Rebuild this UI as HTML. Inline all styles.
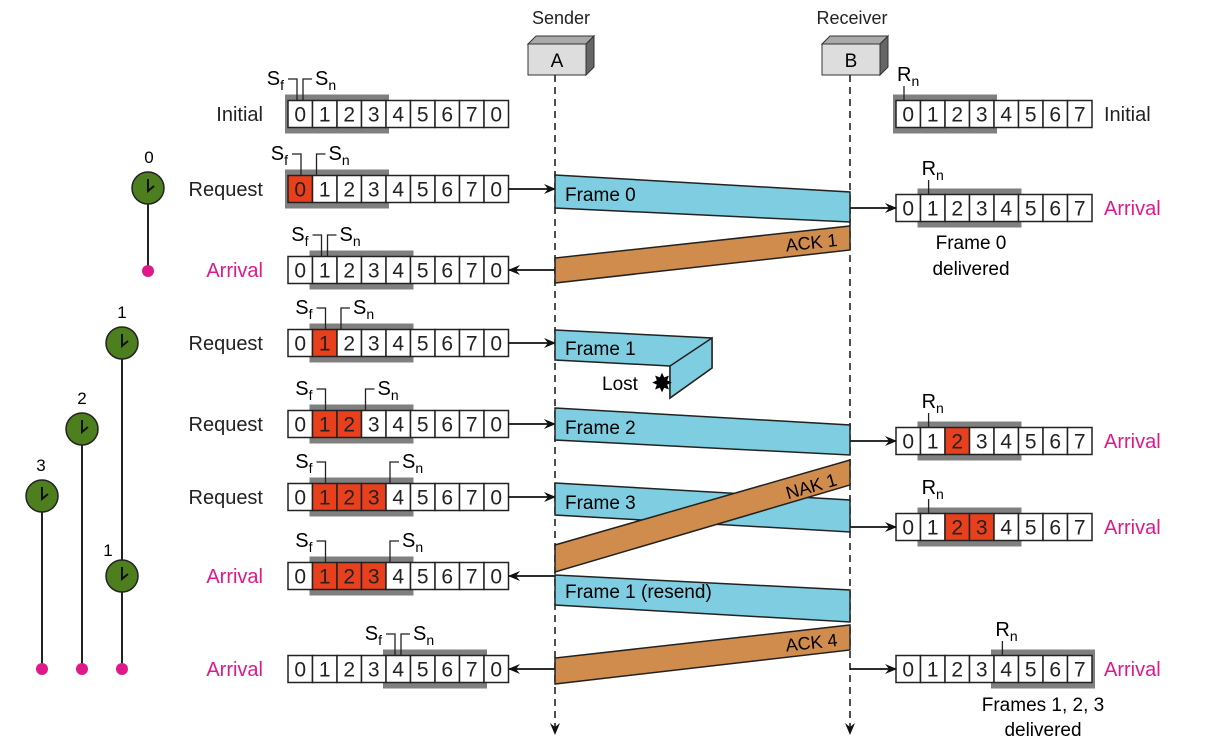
<!DOCTYPE html>
<html><head><meta charset="utf-8"><style>
body{margin:0;background:#fff;}
svg{display:block;font-family:"Liberation Sans","DejaVu Sans",sans-serif;}
</style></head><body>
<svg id="s" width="1205" height="738" viewBox="0 0 1205 738" xmlns="http://www.w3.org/2000/svg">
<defs>
<marker id="ar" markerWidth="12" markerHeight="10" refX="11" refY="5" orient="auto" markerUnits="userSpaceOnUse"><path d="M0,0 L12,5 L0,10 L4,5z" fill="#111"/></marker>
</defs>
<text x="561" y="24" font-size="18" text-anchor="middle" fill="#222">Sender</text>
<text x="852" y="24" font-size="18" text-anchor="middle" fill="#222">Receiver</text>
<polygon points="528,44 536,36 594,36 586,44" fill="#aaa" stroke="#333"/>
<polygon points="586,44 594,36 594,67 586,75" fill="#666" stroke="#333"/>
<rect x="528" y="44" width="58" height="31" fill="#ddd" stroke="#333"/>
<text x="557" y="67" font-size="19" text-anchor="middle">A</text>
<polygon points="822,44 830,36 888,36 880,44" fill="#aaa" stroke="#333"/>
<polygon points="880,44 888,36 888,67 880,75" fill="#666" stroke="#333"/>
<rect x="822" y="44" width="58" height="31" fill="#ddd" stroke="#333"/>
<text x="851" y="67" font-size="19" text-anchor="middle">B</text>
<line x1="555" y1="75" x2="555" y2="734" stroke="#222" stroke-width="1.6" stroke-dasharray="7,5" marker-end="url(#ar)"/>
<line x1="850" y1="75" x2="850" y2="734" stroke="#222" stroke-width="1.6" stroke-dasharray="7,5" marker-end="url(#ar)"/>
<g id="g"></g>
</svg>
<script>
var g=document.getElementById('g'),h='';
function row(x0,y,labels,win,red){var w=24.5,hh=27;
 h+='<rect x="'+(x0+win[0]*w-3)+'" y="'+(y-hh/2-6)+'" width="'+((win[1]-win[0]+1)*w+6)+'" height="'+(hh+12)+'" fill="#808080"/>';
 for(var i=0;i<labels.length;i++){var r=red.indexOf(i)>=0;
  h+='<rect x="'+(x0+i*w)+'" y="'+(y-hh/2)+'" width="'+w+'" height="'+hh+'" fill="'+(r?'#e8401c':'#fff')+'" stroke="#222" stroke-width="1.5"/>';
  h+='<text x="'+(x0+i*w+w/2)+'" y="'+(y+7.5)+'" font-size="21" text-anchor="middle" fill="#222">'+labels[i]+'</text>';}}
function lbl(x,y,t,c){h+='<text x="'+x+'" y="'+(y+7)+'" font-size="20" text-anchor="end" fill="'+(c||'#222')+'">'+t+'</text>';}
function sfsn(y,sf,sn){var x0=288,w=24.5,top=y-13,by=top-22;
 var xf,xn;if(sf==sn){xf=x0+sf*w+9;xn=x0+sn*w+15;}else{xf=x0+sf*w+13;xn=x0+sn*w+4;}
 h+='<path d="M'+xf+','+top+' V'+by+' H'+(xf-9)+'" fill="none" stroke="#222" stroke-width="1.3"/>';
 h+='<path d="M'+xn+','+top+' V'+by+' H'+(xn+9)+'" fill="none" stroke="#222" stroke-width="1.3"/>';
 h+='<text x="'+(xf-13)+'" y="'+(by+6)+'" font-size="20" text-anchor="end">S<tspan font-size="14" dy="5">f</tspan></text>';
 h+='<text x="'+(xn+12)+'" y="'+(by+6)+'" font-size="20">S<tspan font-size="14" dy="5">n</tspan></text>';}
function rn(y,c){var x=896+c*24.6+8;h+='<line x1="'+x+'" y1="'+(y-13)+'" x2="'+x+'" y2="'+(y-28)+'" stroke="#222" stroke-width="1.3"/>';
 h+='<text x="'+(x-7)+'" y="'+(y-33)+'" font-size="20">R<tspan font-size="14" dy="5">n</tspan></text>';}
function arr(x1,y,x2){h+='<line x1="'+x1+'" y1="'+y+'" x2="'+x2+'" y2="'+y+'" stroke="#111" stroke-width="1.8" marker-end="url(#ar)"/>';}
var S=[0,1,2,3,4,5,6,7,0],R=[0,1,2,3,4,5,6,7];
var rows=[[114,'Initial','#222',[0,3],[],0,0,0],[189,'Request','#222',[0,3],[0],0,1,1],[270,'Arrival','#e0198a',[1,4],[],1,1,-1],
[343,'Request','#222',[1,4],[1],1,2,1],[424,'Request','#222',[1,4],[1,2],1,3,1],[497,'Request','#222',[1,4],[1,2,3],1,4,1],
[576,'Arrival','#e0198a',[1,4],[1,2,3],1,4,-1],[669,'Arrival','#e0198a',[4,7],[],4,4,-1]];
rows.forEach(function(r){row(288,r[0],S,r[3],r[4]);lbl(263,r[0],r[1],r[2]);sfsn(r[0],r[5],r[6]);
 if(r[7]==1)arr(508,r[0],555);if(r[7]==-1)arr(555,r[0],509);});
var rr=[[114,'Initial','#222',[0,3],[],0,0],[208,'Arrival','#e0198a',[1,4],[],1,1],[441,'Arrival','#e0198a',[1,4],[2],1,1],[527,'Arrival','#e0198a',[1,4],[2,3],1,1],[669,'Arrival','#e0198a',[4,7],[],4,1]];
rr.forEach(function(r){row(896,r[0],R,r[3],r[4]);h+='<text x="1104" y="'+(r[0]+7)+'" font-size="20" fill="'+r[2]+'">'+r[1]+'</text>';rn(r[0],r[5]);if(r[6])arr(850,r[0],896);});
h+='<text x="971" y="249" font-size="19" text-anchor="middle">Frame 0</text><text x="971" y="275" font-size="19" text-anchor="middle">delivered</text>';
h+='<text x="1043" y="711" font-size="19" text-anchor="middle">Frames 1, 2, 3</text><text x="1043" y="736" font-size="19" text-anchor="middle">delivered</text>';
function poly(p,f){h+='<polygon points="'+p+'" fill="'+f+'" stroke="#222" stroke-width="1.5"/>';}
var B='#7ecde0',O='#cf8c4c';
poly('555,175 850,192 850,222 555,208',B);h+='<text x="565" y="201" font-size="19">Frame 0</text>';
poly('850,226 850,250 555,283 555,258',O);h+='<text x="838" y="246" font-size="18" text-anchor="end" transform="rotate(-6 838 246)">ACK 1</text>';
poly('555,330 712,338 712,368 670,398 670,366 555,360',B);poly('670,366 712,338 712,368 670,398',B);
h+='<text x="565" y="355" font-size="19">Frame 1</text><text x="602" y="390" font-size="19">Lost</text>';
h+='<text x="662" y="392" font-size="26" text-anchor="middle">✸</text>';
poly('555,408 850,425 850,455 555,440',B);h+='<text x="565" y="434" font-size="19">Frame 2</text>';
poly('555,483 850,500 850,532 555,515',B);h+='<text x="565" y="509" font-size="19">Frame 3</text>';
poly('850,460 850,485 555,572 555,545',O);h+='<text x="838" y="485" font-size="18" text-anchor="end" transform="rotate(-16 838 485)">NAK 1</text>';
poly('555,575 850,590 850,622 555,605',B);h+='<text x="565" y="598" font-size="19">Frame 1 (resend)</text>';
poly('850,625 850,650 555,684 555,658',O);h+='<text x="838" y="646" font-size="18" text-anchor="end" transform="rotate(-6 838 646)">ACK 4</text>';
function clk(x,y,n,nx,ny){h+='<circle cx="'+x+'" cy="'+y+'" r="16" fill="#4e7f1f" stroke="#222" stroke-width="1.5"/><path d="M'+x+','+(y-9)+' V'+(y+3)+' L'+(x+6)+','+(y-2)+'" fill="none" stroke="#111" stroke-width="2"/>';
 h+='<text x="'+nx+'" y="'+ny+'" font-size="17" text-anchor="middle">'+n+'</text>';}
function ln(x,y1,y2){h+='<line x1="'+x+'" y1="'+y1+'" x2="'+x+'" y2="'+y2+'" stroke="#222" stroke-width="2"/><circle cx="'+x+'" cy="'+y2+'" r="6" fill="#e0198a"/>';}
ln(148,188,271);ln(122,343,669);ln(82,429,669);ln(42,496,669);
clk(148,188,'0',149,163);clk(122,343,'1',122,318);clk(82,429,'2',82,404);clk(42,496,'3',41,471);clk(122,576,'1',108,556);
g.innerHTML=h;
</script>
</body></html>
